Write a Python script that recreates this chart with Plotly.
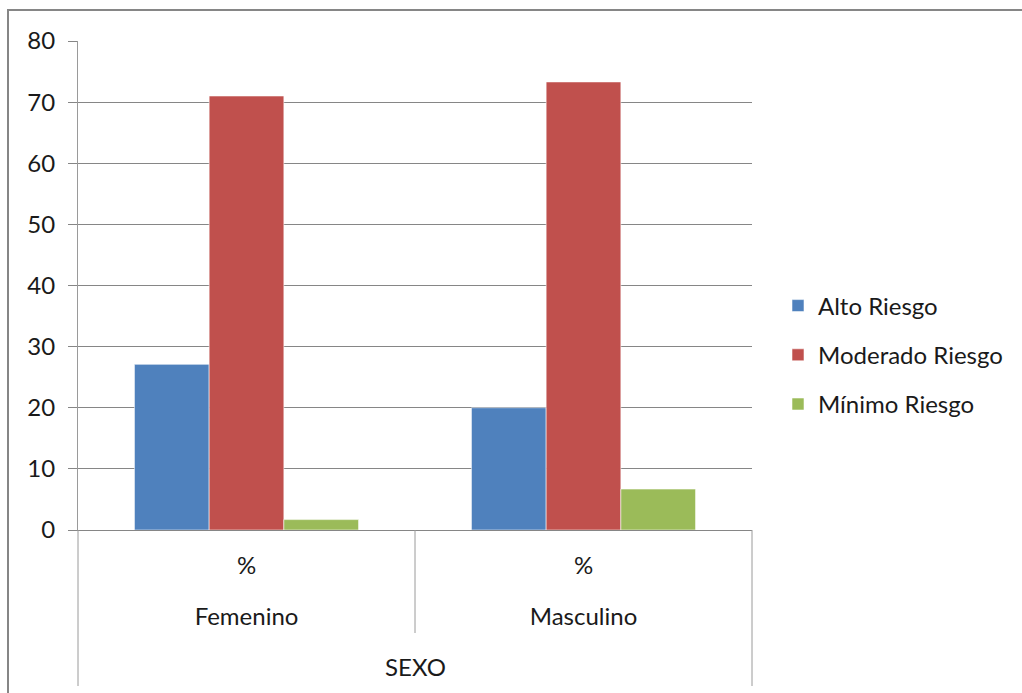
import plotly.graph_objects as go

# Risk level share (%) by sex
categories = ["Femenino", "Masculino"]
unit_labels = ["%", "%"]
series_names = ["Alto Riesgo", "Moderado Riesgo", "Mínimo Riesgo"]
alto = [27.1, 20.0]
moderado = [71.0, 73.3]
minimo = [1.7, 6.7]
y_ticks = [0, 10, 20, 30, 40, 50, 60, 70, 80]
axis_title = "SEXO"

colors = ["#4F81BD", "#C0504D", "#9BBB59"]
font_family = "Lato, Carlito, 'Open Sans', sans-serif"
font_size = 24
text_color = "#1a1a1a"
grid_color = "#868686"

W, H = 1022, 693
ML, MR, MT, MB = 78, 270, 41, 163
plot_w = W - ML - MR
plot_h = H - MT - MB


def px_x(p):
    return (p - ML) / plot_w


def px_y(p):
    return (H - MB - p) / plot_h


tick_font = dict(family=font_family, size=font_size, color=text_color)

fig = go.Figure()
for name, vals, col in zip(series_names, [alto, moderado, minimo], colors):
    fig.add_trace(go.Bar(
        x=list(range(len(categories))), y=vals, name=name, legendgroup=name,
        marker=dict(color=col, line=dict(color="rgba(255,255,255,0.55)", width=1)),
        xaxis="x", yaxis="y",
    ))

fig.update_layout(
    width=W, height=H,
    margin=dict(l=ML, r=MR, t=MT, b=MB, autoexpand=False),
    paper_bgcolor="white", plot_bgcolor="white",
    barmode="group", bargap=0.335, bargroupgap=0,
    font=tick_font,
    showlegend=True,
    legend=dict(
        x=px_x(778), xanchor="left", y=px_y(355), yanchor="middle",
        traceorder="grouped", tracegroupgap=15,
        font=tick_font,
        bgcolor="rgba(0,0,0,0)",
    ),
    xaxis=dict(
        range=[-0.5, len(categories) - 0.5],
        tickmode="array", tickvals=list(range(len(categories))), ticktext=unit_labels,
        ticks="", showgrid=False, zeroline=False,
        showline=True, linecolor=grid_color, linewidth=1,
        ticklabelstandoff=14,
        tickfont=tick_font,
        fixedrange=True,
    ),
    xaxis2=dict(
        overlaying="x", side="bottom", anchor="y",
        range=[-0.5, len(categories) - 0.5],
        tickmode="array", tickvals=list(range(len(categories))), ticktext=categories,
        ticks="", showgrid=False, zeroline=False, showline=False,
        ticklabelstandoff=70,
        tickfont=tick_font,
        fixedrange=True,
    ),
    yaxis=dict(
        range=[0, 80], tickmode="array", tickvals=y_ticks,
        showgrid=True, gridcolor=grid_color, gridwidth=1,
        zeroline=False, showline=True, linecolor="#9a9a9a", linewidth=1,
        ticks="outside", ticklen=9, tickcolor=grid_color, tickwidth=1,
        ticklabelstandoff=8,
        tickfont=tick_font,
        fixedrange=True,
    ),
)

# invisible trace so the second x axis is drawn
fig.add_trace(go.Scatter(x=[0, 1], y=[None, None], xaxis="x2", yaxis="y",
                         showlegend=False, hoverinfo="skip"))

# axis title under the category labels
fig.add_annotation(text=axis_title, xref="paper", yref="paper",
                   x=0.5, y=px_y(666), xanchor="center", yanchor="middle",
                   showarrow=False, font=tick_font)

line_style = dict(color="#9a9a9a", width=1)
# category boundary lines below the axis
fig.add_shape(type="line", xref="paper", yref="paper", x0=0, x1=0,
              y0=0, y1=px_y(686), line=line_style)
fig.add_shape(type="line", xref="paper", yref="paper", x0=0.5, x1=0.5,
              y0=0, y1=px_y(633), line=line_style)
fig.add_shape(type="line", xref="paper", yref="paper", x0=1, x1=1,
              y0=0, y1=px_y(686), line=line_style)
# chart frame
fig.add_shape(type="rect", xref="paper", yref="paper",
              x0=px_x(8), x1=px_x(1040), y0=px_y(10), y1=px_y(710),
              line=dict(color="#868686", width=2), fillcolor="rgba(0,0,0,0)")

fig.write_html("out.html")
